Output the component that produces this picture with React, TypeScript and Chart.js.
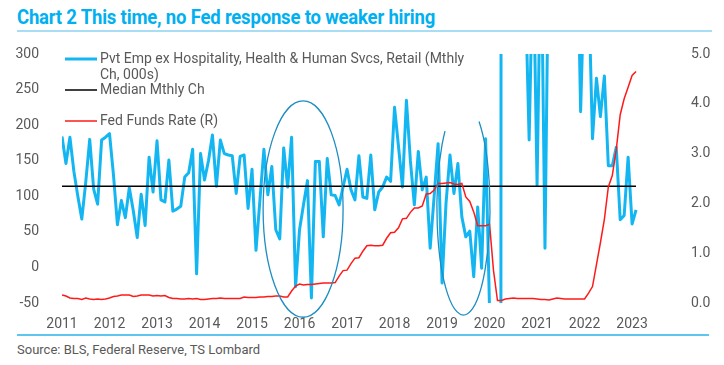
import React, { useEffect, useRef } from 'react';
import { Chart, registerables } from 'chart.js';

Chart.register(...registerables);

// ---- data ----
const yearLabels = ['2011', '2012', '2013', '2014', '2015', '2016', '2017', '2018', '2019', '2020', '2021', '2022', '2023'];

// Monthly change, 000s (Jan 2011 .. Feb 2023)
const empChange = [
  184, 146, 183, 135, 100, 68, 120, 180, 110, 89, 179, 183,
  188, 130, 60, 94, 70, 112, 80, 42, 103, 59, 155, 106,
  178, 95, 92, 151, 79, 82, 86, 127, 133, 166, -9, 160,
  123, 150, 186, 114, 179, 160, 158, 157, 104, 156, 158, 83,
  138, 24, 95, 166, 102, 142, 53, 40, 168, 113, 183, -27,
  53, 88, 122, -43, 149, 149, 43, 153, 102, 101, 88, 113,
  138, 109, 95, 157, 99, 97, 158, 81, 106, 113, 127, 121,
  225, 170, 113, 235, 150, 88, 163, 109, 127, 27, 100, 174,
  -22, 90, 158, 104, 146, 71, 43, 51, -13, 85, -1, 181,
  -60, -300, -10000, 1500, 2500, 700, 900, 500, 800, 400, 179, 450,
  116, 480, 27, 500, 420, 380, 500, 450, 400, 480, 520, 219,
  420, 400, 181, 266, 212, 269, 143, 143, 169, 67, 73, 155,
  61, 81,
];

const medianMthlyCh = [114];

// Fed funds rate, %
const fedFunds = [
  0.16, 0.14, 0.10, 0.09, 0.09, 0.07, 0.10, 0.08, 0.07, 0.08, 0.07, 0.08,
  0.10, 0.13, 0.14, 0.16, 0.16, 0.16, 0.13, 0.14, 0.16, 0.16, 0.16, 0.14,
  0.15, 0.14, 0.15, 0.11, 0.09, 0.09, 0.08, 0.08, 0.09, 0.08, 0.09, 0.07,
  0.07, 0.08, 0.09, 0.09, 0.10, 0.09, 0.09, 0.09, 0.09, 0.09, 0.12, 0.11,
  0.11, 0.11, 0.12, 0.12, 0.13, 0.13, 0.14, 0.14, 0.12, 0.12, 0.24, 0.34,
  0.38, 0.36, 0.37, 0.37, 0.38, 0.39, 0.40, 0.40, 0.40, 0.41, 0.54, 0.65,
  0.66, 0.79, 0.90, 0.91, 1.04, 1.15, 1.16, 1.15, 1.15, 1.16, 1.30, 1.41,
  1.42, 1.51, 1.69, 1.70, 1.82, 1.91, 1.91, 1.95, 2.19, 2.20, 2.27, 2.40,
  2.40, 2.41, 2.42, 2.39, 2.38, 2.40, 2.13, 2.04, 1.83, 1.55, 1.55, 1.55,
  1.58, 0.65, 0.05, 0.05, 0.08, 0.09, 0.10, 0.09, 0.09, 0.09, 0.09, 0.09,
  0.08, 0.07, 0.07, 0.06, 0.08, 0.10, 0.09, 0.08, 0.08, 0.08, 0.08, 0.08,
  0.08, 0.20, 0.33, 0.77, 1.21, 1.68, 2.33, 2.56, 3.08, 3.78, 4.10, 4.33,
  4.57, 4.65,
];

// highlight ellipses in data units (x = months since Jan 2011, y = left axis)
const ellipses = [
  { cx: 60.9, cy: 82, rx: 10.1, ry: 152, from: 0, to: 360 },
  { cx: 101.4, cy: 83.5, rx: 6.7, ry: 150.4, from: -54, to: 226 },
];

const BLUE = '#14B6F2';
const RED = '#FF1A1A';
const GREY = '#595959';
const ELLIPSE = '#1E8DC2';
const FONT = 'Roboto, "Noto Sans", sans-serif';

const legendItems = [
  { lines: ['Pvt Emp ex Hospitality, Health & Human Svcs, Retail (Mthly', 'Ch, 000s)'], color: BLUE, width: 3, dy: 5 },
  { lines: ['Median Mthly Ch'], color: '#000000', width: 1.5, dy: 36 },
  { lines: ['Fed Funds Rate (R)'], color: RED, width: 1.5, dy: 67 },
];

const ellipsePlugin = {
  id: 'ellipses',
  afterDatasetsDraw(chart: any) {
    const { ctx, scales } = chart;
    const xs = scales.x;
    const ys = scales.y;
    ctx.save();
    ctx.strokeStyle = ELLIPSE;
    ctx.lineWidth = 1.3;
    for (const e of ellipses) {
      const cx = xs.getPixelForValue(e.cx);
      const cy = ys.getPixelForValue(e.cy);
      const rx = Math.abs(xs.getPixelForValue(e.cx + e.rx) - cx);
      const ry = Math.abs(ys.getPixelForValue(e.cy + e.ry) - cy);
      ctx.beginPath();
      ctx.ellipse(cx, cy, rx, ry, 0, (e.from * Math.PI) / 180, (e.to * Math.PI) / 180);
      ctx.stroke();
    }
    ctx.restore();
  },
};

const legendPlugin = {
  id: 'customLegend',
  afterDraw(chart: any) {
    const { ctx, chartArea } = chart;
    ctx.save();
    ctx.font = `14px ${FONT}`;
    ctx.textBaseline = 'middle';
    ctx.textAlign = 'left';
    for (const item of legendItems) {
      const y = chartArea.top + item.dy;
      ctx.strokeStyle = item.color;
      ctx.lineWidth = item.width;
      ctx.beginPath();
      ctx.moveTo(65, y);
      ctx.lineTo(97, y);
      ctx.stroke();
      ctx.fillStyle = GREY;
      item.lines.forEach((t, i) => ctx.fillText(t, 100, y + i * 16));
    }
    ctx.restore();
  },
};

const noPad = (s: any) => {
  s.paddingTop = 0;
  s.paddingBottom = 0;
  s.paddingLeft = 0;
  s.paddingRight = 0;
};

export default function App() {
  const ref = useRef<HTMLCanvasElement>(null);

  useEffect(() => {
    document.body.style.margin = '0';
    const months = empChange.map((_, i) => i);
    const tickFont = { family: FONT, size: 14 };
    const chart = new Chart(ref.current as HTMLCanvasElement, {
      type: 'line',
      data: {
        datasets: [
          {
            label: legendItems[0].lines.join(' '),
            data: months.map((i) => ({ x: i, y: empChange[i] })),
            borderColor: BLUE,
            borderWidth: 3,
            pointRadius: 0,
            borderJoinStyle: 'round',
            yAxisID: 'y',
            clip: 0,
            order: 3,
          },
          {
            label: 'Median Mthly Ch',
            data: months.map((i) => ({ x: i, y: medianMthlyCh[0] })),
            borderColor: '#000000',
            borderWidth: 1.5,
            pointRadius: 0,
            yAxisID: 'y',
            order: 2,
          },
          {
            label: 'Fed Funds Rate (R)',
            data: months.map((i) => ({ x: i, y: fedFunds[i] })),
            borderColor: RED,
            borderWidth: 1.5,
            pointRadius: 0,
            yAxisID: 'y1',
            order: 1,
          },
        ],
      },
      options: {
        animation: false,
        responsive: false,
        devicePixelRatio: 1,
        layout: { padding: { top: 14, left: 0, right: 0, bottom: 0 } },
        plugins: { legend: { display: false }, tooltip: { enabled: false } },
        scales: {
          x: {
            type: 'linear',
            min: 0,
            max: 146,
            grid: { display: false },
            border: { display: false },
            afterBuildTicks: (s: any) => {
              s.ticks = yearLabels.map((_, i) => ({ value: i * 12 }));
            },
            afterFit: (s: any) => {
              s.height = 30;
              noPad(s);
            },
            ticks: {
              autoSkip: false,
              maxRotation: 0,
              padding: 5,
              color: GREY,
              font: tickFont,
              callback: (_v: any, i: number) => yearLabels[i],
            },
          },
          y: {
            position: 'left',
            min: -50,
            max: 300,
            grid: { display: false },
            border: { display: false },
            afterFit: (s: any) => {
              s.width = 62;
              noPad(s);
            },
            ticks: { stepSize: 50, padding: 15, color: GREY, font: tickFont, callback: (v: any) => String(v) },
          },
          y1: {
            position: 'right',
            min: 0,
            max: 5,
            grid: { display: false },
            border: { display: false },
            afterFit: (s: any) => {
              s.width = 84;
              noPad(s);
            },
            ticks: { stepSize: 1, padding: 43, color: GREY, font: tickFont, callback: (v: any) => Number(v).toFixed(1) },
          },
        },
      } as any,
      plugins: [ellipsePlugin, legendPlugin],
    });
    return () => chart.destroy();
  }, []);

  return (
    <div style={{ position: 'relative', width: 724, height: 365, fontFamily: FONT, background: '#fff' }}>
      <div
        style={{
          position: 'absolute',
          left: 17,
          top: 5,
          fontSize: 20,
          fontWeight: 700,
          color: '#00B0F0',
          whiteSpace: 'nowrap',
          transform: 'scaleX(0.925)',
          transformOrigin: 'left center',
          letterSpacing: -0.2,
        }}
      >
        Chart 2 This time, no Fed response to weaker hiring
      </div>
      <div style={{ position: 'absolute', left: 17, top: 30, width: 695, height: 2, background: '#A8DEF5' }} />
      <canvas ref={ref} width={724} height={293} style={{ position: 'absolute', left: 0, top: 40, width: 724, height: 293 }} />
      <div style={{ position: 'absolute', left: 17, top: 334, width: 692, height: 1.5, background: '#5CC6EE' }} />
      <div style={{ position: 'absolute', left: 17, top: 342, fontSize: 13, color: GREY, whiteSpace: 'nowrap' }}>
        Source: BLS, Federal Reserve, TS Lombard
      </div>
    </div>
  );
}
